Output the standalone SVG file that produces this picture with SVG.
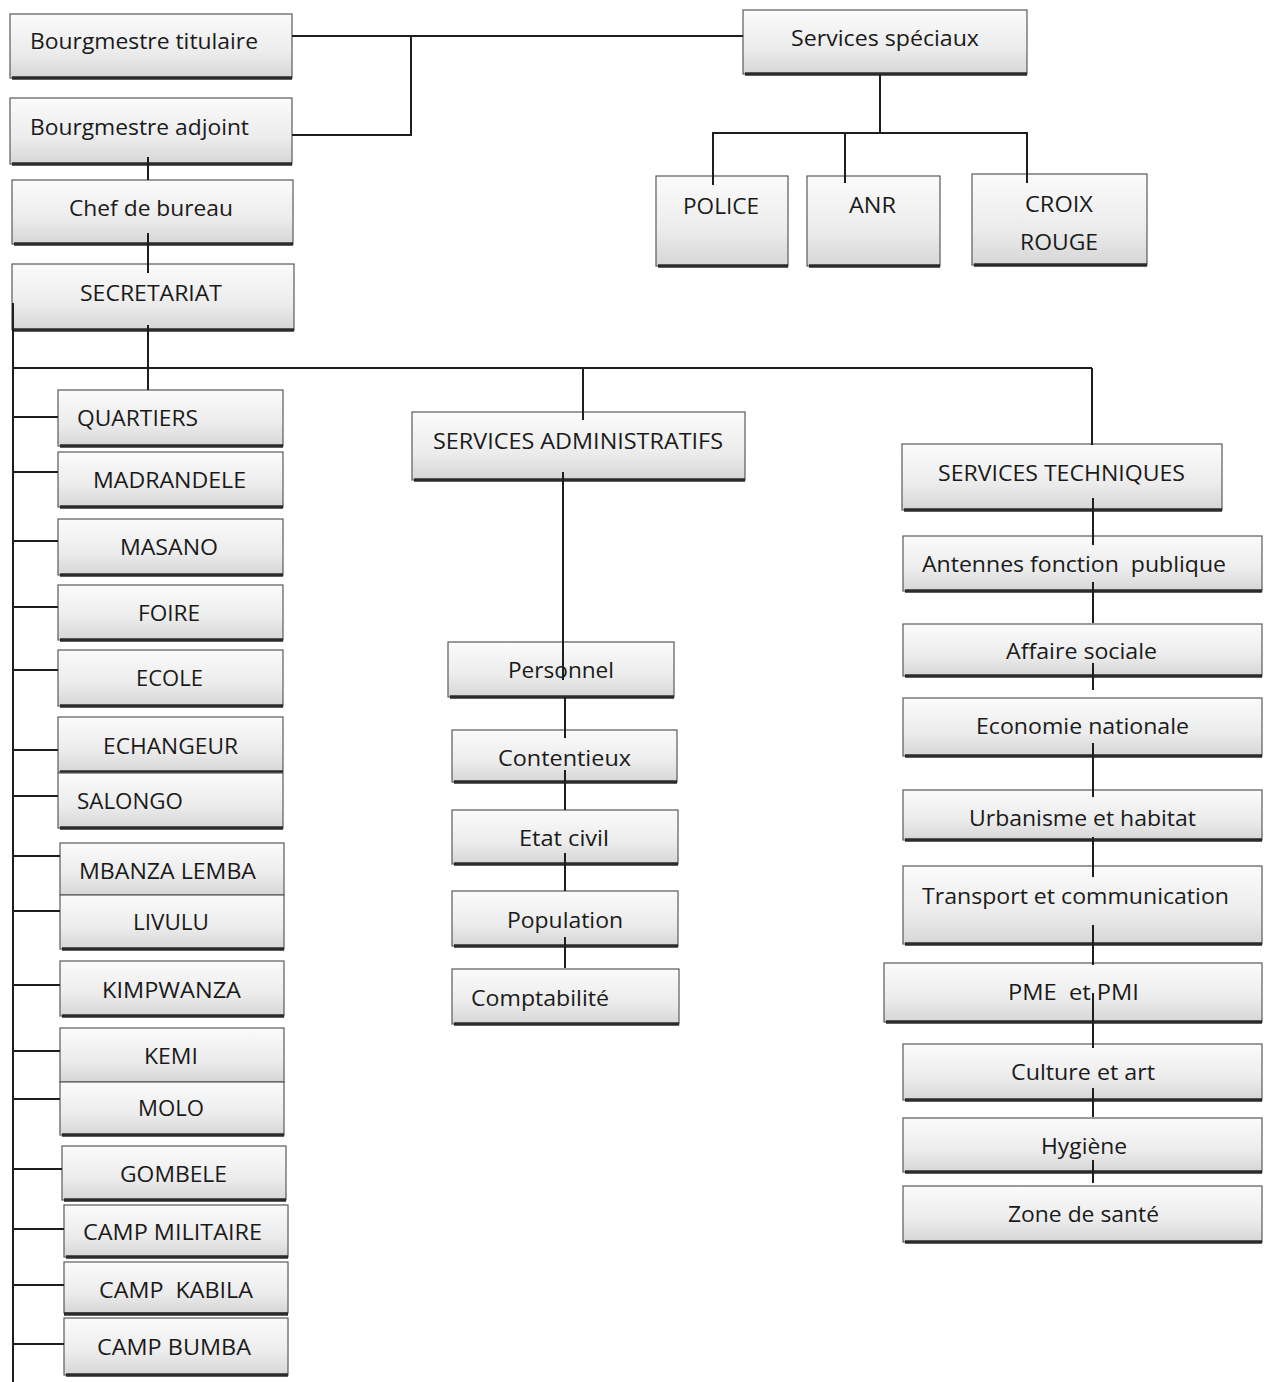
<svg xmlns="http://www.w3.org/2000/svg" width="1268" height="1382" viewBox="0 0 1268 1382">
<defs>
<linearGradient id="g" x1="0" y1="0" x2="0" y2="1">
<stop offset="0" stop-color="#fbfbfb"/>
<stop offset="0.6" stop-color="#ececec"/>
<stop offset="1" stop-color="#d6d6d6"/>
</linearGradient>
</defs>
<style>
.b{fill:url(#g);stroke:#5a5a5a;stroke-width:1.2}
.s{stroke:#2b2b2b;stroke-width:3.5}
.t{font-family:"Open Sans",Lato,"Liberation Sans",sans-serif;font-size:22px;fill:#1a1a1a}
.c{stroke:#1e1e1e;stroke-width:2;fill:none}
</style>
<rect width="1268" height="1382" fill="#ffffff"/>
<g id="nodes">
<g id="n-titulaire"><rect class="b" x="10" y="14" width="282" height="64"/><line class="s" x1="12" y1="78" x2="292" y2="78"/><text class="t" x="30" y="49" textLength="228" lengthAdjust="spacingAndGlyphs">Bourgmestre titulaire</text></g>
<g id="n-adjoint"><rect class="b" x="10" y="98" width="282" height="66"/><line class="s" x1="12" y1="164" x2="292" y2="164"/><text class="t" x="30" y="135" textLength="219" lengthAdjust="spacingAndGlyphs">Bourgmestre adjoint</text></g>
<g id="n-chef"><rect class="b" x="12" y="180" width="281" height="64"/><line class="s" x1="14" y1="244" x2="293" y2="244"/><text class="t" x="69" y="216" textLength="164" lengthAdjust="spacingAndGlyphs">Chef de bureau</text></g>
<g id="n-secretariat"><rect class="b" x="12" y="264" width="282" height="66"/><line class="s" x1="14" y1="330" x2="294" y2="330"/><text class="t" x="80" y="301" textLength="142" lengthAdjust="spacingAndGlyphs">SECRETARIAT</text></g>
<g id="n-speciaux"><rect class="b" x="743" y="10" width="284" height="64"/><line class="s" x1="745" y1="74" x2="1027" y2="74"/><text class="t" x="791" y="46" textLength="188" lengthAdjust="spacingAndGlyphs">Services spéciaux</text></g>
<g id="n-police"><rect class="b" x="656" y="176" width="132" height="90"/><line class="s" x1="658" y1="266" x2="788" y2="266"/><text class="t" x="683" y="214" textLength="76" lengthAdjust="spacingAndGlyphs">POLICE</text></g>
<g id="n-anr"><rect class="b" x="807" y="176" width="133" height="90"/><line class="s" x1="809" y1="266" x2="940" y2="266"/><text class="t" x="849" y="213" textLength="47" lengthAdjust="spacingAndGlyphs">ANR</text></g>
<g id="n-croix"><rect class="b" x="972" y="174" width="175" height="91"/><line class="s" x1="974" y1="265" x2="1147" y2="265"/><text class="t" x="1025" y="212" textLength="68" lengthAdjust="spacingAndGlyphs">CROIX</text><text class="t" x="1020" y="250" textLength="78" lengthAdjust="spacingAndGlyphs">ROUGE</text></g>
<g id="n-quartiers"><rect class="b" x="58" y="390" width="225" height="56"/><line class="s" x1="60" y1="446" x2="283" y2="446"/><text class="t" x="77" y="426" textLength="121" lengthAdjust="spacingAndGlyphs">QUARTIERS</text></g>
<g id="n-madrandele"><rect class="b" x="58" y="452" width="225" height="55"/><line class="s" x1="60" y1="507" x2="283" y2="507"/><text class="t" x="93" y="488" textLength="153" lengthAdjust="spacingAndGlyphs">MADRANDELE</text></g>
<g id="n-masano"><rect class="b" x="58" y="519" width="225" height="56"/><line class="s" x1="60" y1="575" x2="283" y2="575"/><text class="t" x="120" y="555" textLength="98" lengthAdjust="spacingAndGlyphs">MASANO</text></g>
<g id="n-foire"><rect class="b" x="58" y="585" width="225" height="55"/><line class="s" x1="60" y1="640" x2="283" y2="640"/><text class="t" x="138" y="621" textLength="62" lengthAdjust="spacingAndGlyphs">FOIRE</text></g>
<g id="n-ecole"><rect class="b" x="58" y="650" width="225" height="56"/><line class="s" x1="60" y1="706" x2="283" y2="706"/><text class="t" x="136" y="686" textLength="67" lengthAdjust="spacingAndGlyphs">ECOLE</text></g>
<g id="n-echangeur"><rect class="b" x="58" y="717" width="225" height="55"/><line class="s" x1="60" y1="772" x2="283" y2="772"/><text class="t" x="103" y="754" textLength="135" lengthAdjust="spacingAndGlyphs">ECHANGEUR</text></g>
<g id="n-salongo"><rect class="b" x="58" y="773" width="225" height="55"/><line class="s" x1="60" y1="828" x2="283" y2="828"/><text class="t" x="77" y="809" textLength="106" lengthAdjust="spacingAndGlyphs">SALONGO</text></g>
<g id="n-mbanza"><rect class="b" x="60" y="843" width="224" height="52"/><text class="t" x="79" y="879" textLength="177" lengthAdjust="spacingAndGlyphs">MBANZA LEMBA</text></g>
<g id="n-livulu"><rect class="b" x="60" y="895" width="224" height="54"/><line class="s" x1="62" y1="949" x2="284" y2="949"/><text class="t" x="133" y="930" textLength="76" lengthAdjust="spacingAndGlyphs">LIVULU</text></g>
<g id="n-kimpwanza"><rect class="b" x="60" y="961" width="224" height="55"/><line class="s" x1="62" y1="1016" x2="284" y2="1016"/><text class="t" x="102" y="998" textLength="139" lengthAdjust="spacingAndGlyphs">KIMPWANZA</text></g>
<g id="n-kemi"><rect class="b" x="60" y="1028" width="224" height="54"/><text class="t" x="144" y="1064" textLength="54" lengthAdjust="spacingAndGlyphs">KEMI</text></g>
<g id="n-molo"><rect class="b" x="60" y="1082" width="224" height="53"/><line class="s" x1="62" y1="1135" x2="284" y2="1135"/><text class="t" x="138" y="1116" textLength="66" lengthAdjust="spacingAndGlyphs">MOLO</text></g>
<g id="n-gombele"><rect class="b" x="62" y="1146" width="224" height="54"/><line class="s" x1="64" y1="1200" x2="286" y2="1200"/><text class="t" x="120" y="1182" textLength="107" lengthAdjust="spacingAndGlyphs">GOMBELE</text></g>
<g id="n-militaire"><rect class="b" x="64" y="1205" width="224" height="52"/><line class="s" x1="66" y1="1257" x2="288" y2="1257"/><text class="t" x="83" y="1240" textLength="179" lengthAdjust="spacingAndGlyphs">CAMP MILITAIRE</text></g>
<g id="n-kabila"><rect class="b" x="64" y="1262" width="224" height="51"/><line class="s" x1="64" y1="1314" x2="288" y2="1314"/><text class="t" x="99" y="1298" textLength="154" lengthAdjust="spacingAndGlyphs" xml:space="preserve">CAMP  KABILA</text></g>
<g id="n-bumba"><rect class="b" x="64" y="1318" width="224" height="57"/><line class="s" x1="66" y1="1375" x2="288" y2="1375"/><text class="t" x="97" y="1355" textLength="154" lengthAdjust="spacingAndGlyphs">CAMP BUMBA</text></g>
<g id="n-admin"><rect class="b" x="412" y="412" width="333" height="68"/><line class="s" x1="414" y1="480" x2="745" y2="480"/><text class="t" x="433" y="449" textLength="290" lengthAdjust="spacingAndGlyphs">SERVICES ADMINISTRATIFS</text></g>
<g id="n-personnel"><rect class="b" x="448" y="642" width="226" height="55"/><line class="s" x1="450" y1="697" x2="674" y2="697"/><text class="t" x="508" y="678" textLength="106" lengthAdjust="spacingAndGlyphs">Personnel</text></g>
<g id="n-contentieux"><rect class="b" x="452" y="730" width="225" height="52"/><line class="s" x1="454" y1="782" x2="677" y2="782"/><text class="t" x="498" y="766" textLength="133" lengthAdjust="spacingAndGlyphs">Contentieux</text></g>
<g id="n-etatcivil"><rect class="b" x="452" y="810" width="226" height="54"/><line class="s" x1="454" y1="864" x2="678" y2="864"/><text class="t" x="519" y="846" textLength="90" lengthAdjust="spacingAndGlyphs">Etat civil</text></g>
<g id="n-population"><rect class="b" x="452" y="891" width="226" height="55"/><line class="s" x1="454" y1="946" x2="678" y2="946"/><text class="t" x="507" y="928" textLength="116" lengthAdjust="spacingAndGlyphs">Population</text></g>
<g id="n-comptabilite"><rect class="b" x="452" y="969" width="227" height="55"/><line class="s" x1="454" y1="1024" x2="679" y2="1024"/><text class="t" x="471" y="1006" textLength="138" lengthAdjust="spacingAndGlyphs">Comptabilité</text></g>
<g id="n-techniques"><rect class="b" x="902" y="444" width="320" height="66"/><line class="s" x1="904" y1="510" x2="1222" y2="510"/><text class="t" x="938" y="481" textLength="247" lengthAdjust="spacingAndGlyphs">SERVICES TECHNIQUES</text></g>
<g id="n-antennes"><rect class="b" x="903" y="536" width="359" height="55"/><line class="s" x1="905" y1="591" x2="1262" y2="591"/><text class="t" x="922" y="572" textLength="304" lengthAdjust="spacingAndGlyphs" xml:space="preserve">Antennes fonction  publique</text></g>
<g id="n-affaire"><rect class="b" x="903" y="624" width="359" height="52"/><line class="s" x1="905" y1="676" x2="1262" y2="676"/><text class="t" x="1006" y="659" textLength="151" lengthAdjust="spacingAndGlyphs">Affaire sociale</text></g>
<g id="n-economie"><rect class="b" x="903" y="698" width="359" height="58"/><line class="s" x1="905" y1="756" x2="1262" y2="756"/><text class="t" x="976" y="734" textLength="213" lengthAdjust="spacingAndGlyphs">Economie nationale</text></g>
<g id="n-urbanisme"><rect class="b" x="903" y="790" width="359" height="50"/><line class="s" x1="905" y1="840" x2="1262" y2="840"/><text class="t" x="969" y="826" textLength="227" lengthAdjust="spacingAndGlyphs">Urbanisme et habitat</text></g>
<g id="n-transport"><rect class="b" x="903" y="866" width="359" height="78"/><line class="s" x1="905" y1="944" x2="1262" y2="944"/><text class="t" x="922" y="904" textLength="307" lengthAdjust="spacingAndGlyphs">Transport et communication</text></g>
<g id="n-pme"><rect class="b" x="884" y="963" width="378" height="59"/><line class="s" x1="886" y1="1022" x2="1262" y2="1022"/><text class="t" x="1008" y="1000" textLength="131" lengthAdjust="spacingAndGlyphs" xml:space="preserve">PME  et PMI</text></g>
<g id="n-culture"><rect class="b" x="903" y="1044" width="359" height="56"/><line class="s" x1="905" y1="1100" x2="1262" y2="1100"/><text class="t" x="1011" y="1080" textLength="144" lengthAdjust="spacingAndGlyphs">Culture et art</text></g>
<g id="n-hygiene"><rect class="b" x="903" y="1118" width="359" height="54"/><line class="s" x1="905" y1="1172" x2="1262" y2="1172"/><text class="t" x="1041" y="1154" textLength="86" lengthAdjust="spacingAndGlyphs">Hygiène</text></g>
<g id="n-zone"><rect class="b" x="903" y="1186" width="359" height="56"/><line class="s" x1="905" y1="1242" x2="1262" y2="1242"/><text class="t" x="1008" y="1222" textLength="151" lengthAdjust="spacingAndGlyphs">Zone de santé</text></g>
</g>
<g id="connectors" class="c">
<path d="M292 36 H743"/>
<path d="M411 36 V135 H292"/>
<path d="M148 157 V180"/>
<path d="M148 233 V273"/>
<path d="M148 325 V390"/>
<path d="M12 368 H1092"/>
<path d="M13 303 V1382"/>
<path d="M880 74 V133"/>
<path d="M713 185 V133 H1027 V183"/>
<path d="M845 133 V183"/>
<path d="M583 368 V420"/>
<path d="M1092 368 V445"/>
<path d="M563 472 V680"/>
<path d="M565 697 V738"/>
<path d="M565 770 V810"/>
<path d="M565 853 V891"/>
<path d="M565 937 V968"/>
<path d="M1093 498 V545"/>
<path d="M1093 582 V623"/>
<path d="M1093 663 V690"/>
<path d="M1093 743 V797"/>
<path d="M1093 837 V877"/>
<path d="M1093 925 V965"/>
<path d="M1093 993 V1048"/>
<path d="M1093 1088 V1117"/>
<path d="M1093 1160 V1183"/>
<path d="M13 417 H58"/>
<path d="M13 472 H58"/>
<path d="M13 541 H58"/>
<path d="M13 607 H58"/>
<path d="M13 670 H58"/>
<path d="M13 750 H58"/>
<path d="M13 796 H58"/>
<path d="M13 856 H60"/>
<path d="M13 911 H60"/>
<path d="M13 985 H60"/>
<path d="M13 1051 H60"/>
<path d="M13 1099 H60"/>
<path d="M13 1169 H62"/>
<path d="M13 1229 H64"/>
<path d="M13 1285 H64"/>
<path d="M13 1344 H64"/>
</g>
</svg>
